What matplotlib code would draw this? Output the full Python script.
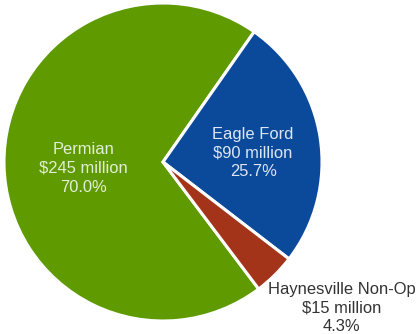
import numpy as np
import matplotlib
matplotlib.use("Agg")
import matplotlib.pyplot as plt

categories = ["Permian", "Eagle Ford", "Haynesville Non-Op"]
values = [245, 90, 15]  # $ million
colors = ["#5e9a00", "#0b4a9a", "#a3341a"]

W, H = 418, 334
fig = plt.figure(figsize=(W / 100, H / 100), dpi=100)
ax = fig.add_axes([0, 0, 1, 1])

cx, cy, R = 163, H - 162, 159
wedges, _ = ax.pie(values, colors=colors, startangle=-53, counterclock=False,
                   center=(cx, cy), radius=R, frame=True,
                   wedgeprops=dict(edgecolor="white", linewidth=2.2))
ax.set_xlim(0, W)
ax.set_ylim(0, H)
ax.set_aspect("equal")
ax.axis("off")

total = sum(values)
# label placement (radius factor, angle offset in deg) per slice
label_r = [0.50, 0.57, 1.45]
label_da = [3.5, -3, 6]
label_col = ["#e4eed8", "#dde6f2", "#333333"]
for w, name, v, r, da, c in zip(wedges, categories, values, label_r, label_da, label_col):
    ang = np.deg2rad((w.theta1 + w.theta2) / 2 + da)
    x = cx + r * R * np.cos(ang)
    y = cy + r * R * np.sin(ang)
    ax.text(x, y, f"{name}\n${v} million\n{100 * v / total:.1f}%",
            ha="center", va="center", color=c, fontsize=11.9,
            family="Liberation Sans", linespacing=1.33)

fig.savefig("out.png", dpi=100)
